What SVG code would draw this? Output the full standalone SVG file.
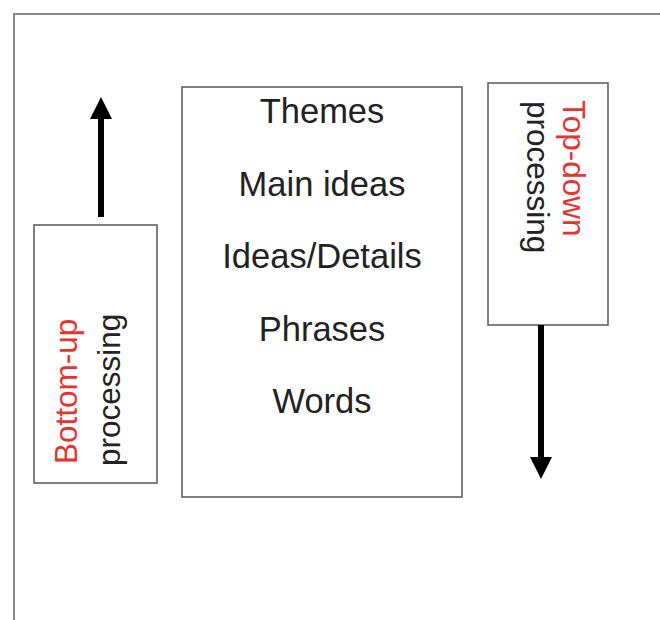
<svg xmlns="http://www.w3.org/2000/svg" width="660" height="620" viewBox="0 0 660 620">
<style>
.box{fill:#fff;stroke:#555;stroke-width:1.5}
.t{font-family:"Liberation Sans",Arial,sans-serif;font-size:34.5px;fill:#222}
.v{font-size:31.5px}
.red{fill:#e8322e}
.arr{stroke:#000;stroke-width:6;fill:none}
</style>
<defs>
<marker id="ah" markerUnits="userSpaceOnUse" viewBox="0 0 22 22" refX="0" refY="11" markerWidth="22" markerHeight="22" orient="auto">
<path d="M0,0 L22,11 L0,22 Z" fill="#000"/>
</marker>
</defs>
<rect width="660" height="620" fill="#fff"/>
<g id="frame">
<path d="M14,620 L14,14 L660,14" fill="none" stroke="#888" stroke-width="2"/>
</g>
<g id="levels">
<rect class="box" x="182" y="87" width="280" height="410"/>
<text class="t" x="322" y="123" text-anchor="middle">Themes</text>
<text class="t" x="322" y="196" text-anchor="middle">Main ideas</text>
<text class="t" x="322" y="268" text-anchor="middle">Ideas/Details</text>
<text class="t" x="322" y="341" text-anchor="middle">Phrases</text>
<text class="t" x="322" y="413" text-anchor="middle">Words</text>
</g>
<g id="bottom-up">
<rect class="box" x="34" y="225" width="123" height="258"/>
<text class="t v red" transform="translate(77,464) rotate(-90)">Bottom-up</text>
<text class="t v" transform="translate(120,466) rotate(-90)">processing</text>
</g>
<g id="top-down">
<rect class="box" x="488" y="83" width="120" height="242"/>
<text class="t v red" transform="translate(563,100) rotate(90)">Top-down</text>
<text class="t v" transform="translate(527,101) rotate(90)">processing</text>
</g>
<g id="connectors">
<line class="arr" x1="101" y1="217" x2="101" y2="119" marker-end="url(#ah)"/>
<line class="arr" x1="541" y1="325" x2="541" y2="457" marker-end="url(#ah)"/>
</g>
</svg>
